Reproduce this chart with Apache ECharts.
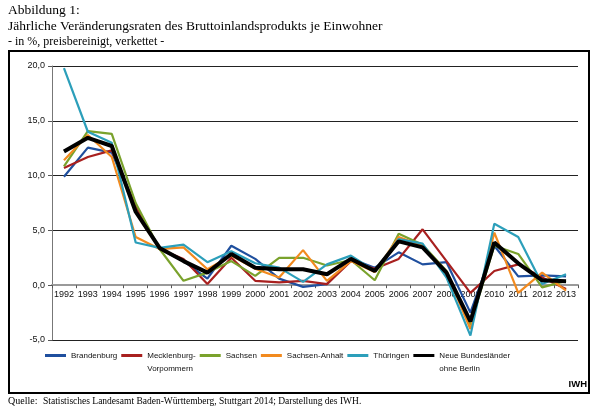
<!DOCTYPE html>
<html><head><meta charset="utf-8">
<script src="https://cdn.jsdelivr.net/npm/echarts@6/dist/echarts.min.js"></script>
<style>html,body{margin:0;padding:0;background:#fff}#c{width:600px;height:412px}</style>
</head><body><div id="c"></div>
<script>
const years = ['1992','1993','1994','1995','1996','1997','1998','1999','2000','2001','2002','2003','2004','2005','2006','2007','2008','2009','2010','2011','2012','2013'];
const brandenburg = [9.9,12.55,12.1,7.0,3.3,2.2,0.6,3.6,2.4,0.6,-0.15,0.1,2.4,1.6,3.0,1.9,2.1,-2.5,3.6,0.8,0.9,0.8];
const mecklenburg = [10.7,11.7,12.3,7.2,3.3,2.4,0.1,2.5,0.4,0.25,0.4,0.1,2.2,1.5,2.4,5.1,2.2,-0.7,1.3,1.9,0.7,-0.35];
const sachsen = [10.85,14.05,13.8,7.5,3.3,0.4,1.15,2.2,0.85,2.5,2.5,1.8,2.3,0.45,4.7,3.7,1.3,-3.6,3.6,2.85,-0.2,0.4];
const sachsenAnhalt = [11.4,13.7,11.7,4.4,3.3,3.45,1.45,2.7,1.5,0.7,3.2,0.4,2.2,1.2,4.4,3.6,1.2,-4.0,4.8,-0.7,1.15,-0.5];
const thueringen = [19.8,14.0,13.0,3.9,3.4,3.7,2.1,3.1,2.0,1.6,0.3,1.9,2.7,1.3,4.2,3.8,0.7,-4.6,5.6,4.4,0.1,1.0];
const neueLaender = [12.2,13.45,12.7,6.7,3.4,2.2,1.15,2.85,1.6,1.45,1.45,1.0,2.4,1.3,4.0,3.45,1.15,-3.3,3.9,2.0,0.45,0.35];
const yTicks = [-5,0,5,10,15,20];
const yMin = -5, yMax = 20;

const seriesDefs = [
  {name:'Brandenburg', data:brandenburg, color:'#1f4f9e', w:2.2},
  {name:'Mecklenburg-\nVorpommern', data:mecklenburg, color:'#a8201f', w:2.2},
  {name:'Sachsen', data:sachsen, color:'#7aa22c', w:2.2},
  {name:'Sachsen-Anhalt', data:sachsenAnhalt, color:'#f28a1e', w:2.2},
  {name:'Thüringen', data:thueringen, color:'#2c9fba', w:2.2},
  {name:'Neue Bundesländer\nohne Berlin', data:neueLaender, color:'#000000', w:4}
];

const gridTop = 66, gridBottom = 72, H = 412;
const plotH = H - gridTop - gridBottom;
const zeroOffset = plotH * (0 - yMin) / (yMax - yMin);

const chart = echarts.init(document.getElementById('c'), null, {renderer:'canvas'});
const lf = 'Liberation Sans';
chart.setOption({
  animation:false,
  backgroundColor:'#fff',
  grid:{left:52, right:22, top:gridTop, bottom:gridBottom, containLabel:false},
  legend:{
    left:45, top:336, padding:0, itemWidth:21, itemHeight:3, itemGap:4,
    icon:'rect',
    textStyle:{fontFamily:lf, fontSize:8, color:'#111', lineHeight:13},
    formatter: n => n.indexOf('\n')>=0 ? '\u00a0\n' + n : n,
    data: seriesDefs.map(s => s.name)
  },
  xAxis:{
    type:'category', data:years, boundaryGap:true,
    offset: -zeroOffset,
    axisLine:{show:true, onZero:false, lineStyle:{color:'#9a9a9a', width:2}},
    axisTick:{show:true, length:3, lineStyle:{color:'#555'}},
    axisLabel:{fontFamily:lf, fontSize:9, color:'#111', margin:5, interval:0}
  },
  yAxis:{
    type:'value', min:yMin, max:yMax, interval:5,
    axisLine:{show:true, lineStyle:{color:'#777', width:1}},
    axisTick:{show:true, length:4, lineStyle:{color:'#555'}},
    axisLabel:{fontFamily:lf, fontSize:9, color:'#111', margin:7,
      formatter: v => yTicks.indexOf(v)>=0 ? v.toFixed(1).replace('.', ',') : ''},
    splitLine:{lineStyle:{color:'#222', width:1}}
  },
  series: seriesDefs.map((s,i) => ({
    name:s.name, type:'line', data:s.data, symbol:'none', smooth:false,
    z: i===5 ? 5 : 2,
    itemStyle:{color:s.color},
    lineStyle:{color:s.color, width:s.w}
  })),
  graphic:[
    {type:'text', left:8, top:3, style:{text:'Abbildung 1:', font:'13.5px "Liberation Serif"', fill:'#000'}},
    {type:'text', left:8, top:19, style:{text:'Jährliche Veränderungsraten des Bruttoinlandsprodukts je Einwohner', font:'13.5px "Liberation Serif"', fill:'#000'}},
    {type:'text', left:8, top:36, style:{text:'- in %, preisbereinigt, verkettet -', font:'12px "Liberation Serif"', fill:'#000'}},
    {type:'rect', shape:{x:9, y:51, width:580, height:342}, style:{fill:'none', stroke:'#000', lineWidth:2}, z:-1},
    {type:'text', right:13, top:379, style:{text:'IWH', font:'bold 9.5px "Liberation Sans"', fill:'#000'}},
    {type:'text', left:8, top:396, style:{text:'Quelle:', font:'10px "Liberation Serif"', fill:'#000'}},
    {type:'text', left:43, top:396, style:{text:'Statistisches Landesamt Baden-Württemberg, Stuttgart 2014; Darstellung des IWH.', font:'9.5px "Liberation Serif"', fill:'#000'}}
  ]
});
</script></body></html>
